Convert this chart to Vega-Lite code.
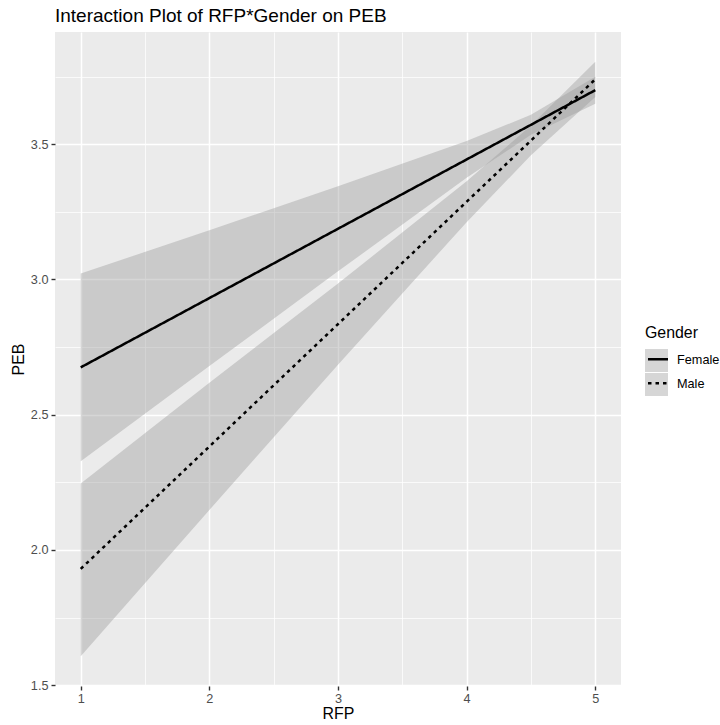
{
  "$schema": "https://vega.github.io/schema/vega-lite/v6.json",
  "width": 566,
  "height": 654,
  "autosize": {"type": "none"},
  "padding": {"left": 55, "top": 32, "right": 99, "bottom": 39},
  "background": "#FFFFFF",
  "config": {
    "font": "Liberation Sans",
    "view": {"fill": "#EBEBEB", "stroke": null},
    "axis": {
      "domain": false,
      "gridColor": "#FFFFFF",
      "gridOpacity": 1,
      "tickColor": "#333333",
      "tickWidth": 1.4,
      "tickSize": 4,
      "labelColor": "#4D4D4D",
      "labelFontSize": 12.7,
      "labelFont": "Liberation Sans",
      "labelOverlap": false,
      "labelFlush": false,
      "titleFont": "Liberation Sans",
      "titleFontSize": 15.9,
      "titleFontWeight": "normal",
      "titleColor": "#000000"
    },
    "legend": {
      "titleFont": "Liberation Sans",
      "labelFont": "Liberation Sans",
      "padding": 0
    }
  },
  "title": {
    "text": "Interaction Plot of RFP*Gender on PEB",
    "anchor": "start",
    "frame": "group",
    "font": "Liberation Sans",
    "fontSize": 19,
    "fontWeight": "normal",
    "color": "#000000",
    "baseline": "alphabetic",
    "offset": 10,
    "dy": 19
  },
  "datasets": {
    "lines": [
      {"Gender": "Female", "RFP": 1, "PEB": 2.675},
      {"Gender": "Female", "RFP": 5, "PEB": 3.7},
      {"Gender": "Male", "RFP": 1, "PEB": 1.93},
      {"Gender": "Male", "RFP": 5, "PEB": 3.74}
    ],
    "bands": [
      {"Gender": "Female", "RFP": 1, "lower": 2.328, "upper": 3.022},
      {"Gender": "Female", "RFP": 2, "lower": 2.68, "upper": 3.182},
      {"Gender": "Female", "RFP": 3, "lower": 3.03, "upper": 3.345},
      {"Gender": "Female", "RFP": 4, "lower": 3.376, "upper": 3.512},
      {"Gender": "Female", "RFP": 4.5, "lower": 3.535, "upper": 3.609},
      {"Gender": "Female", "RFP": 5, "lower": 3.65, "upper": 3.75},
      {"Gender": "Male", "RFP": 1, "lower": 1.607, "upper": 2.246},
      {"Gender": "Male", "RFP": 2, "lower": 2.148, "upper": 2.618},
      {"Gender": "Male", "RFP": 3, "lower": 2.685, "upper": 2.985},
      {"Gender": "Male", "RFP": 4, "lower": 3.212, "upper": 3.363},
      {"Gender": "Male", "RFP": 4.5, "lower": 3.459, "upper": 3.569},
      {"Gender": "Male", "RFP": 5, "lower": 3.675, "upper": 3.805}
    ]
  },
  "encoding": {
    "x": {
      "field": "RFP",
      "type": "quantitative",
      "scale": {"domain": [0.8, 5.2], "nice": false, "zero": false},
      "axis": {
        "title": "RFP",
        "values": [1, 1.5, 2, 2.5, 3, 3.5, 4, 4.5, 5],
        "labelExpr": "datum.value % 1 === 0 ? format(datum.value, 'd') : ''",
        "gridWidth": {"condition": {"test": "datum.value % 1 !== 0", "value": 0.75}, "value": 1.5},
        "tickOpacity": {"condition": {"test": "datum.value % 1 !== 0", "value": 0}, "value": 1},
        "labelPadding": 2,
        "titlePadding": 1
      }
    }
  },
  "layer": [
    {
      "data": {"name": "bands"},
      "mark": {"type": "area", "opacity": 0.4},
      "encoding": {
        "y": {
          "field": "lower",
          "type": "quantitative",
          "scale": {"domain": [1.497, 3.915], "nice": false, "zero": false},
          "axis": {
            "title": "PEB",
            "values": [1.5, 1.75, 2, 2.25, 2.5, 2.75, 3, 3.25, 3.5, 3.75],
            "labelExpr": "(datum.value * 2) % 1 === 0 ? format(datum.value, '.1f') : ''",
            "gridWidth": {"condition": {"test": "(datum.value * 2) % 1 !== 0", "value": 0.75}, "value": 1.5},
            "tickOpacity": {"condition": {"test": "(datum.value * 2) % 1 !== 0", "value": 0}, "value": 1},
            "labelPadding": 3,
            "titlePadding": 4
          }
        },
        "y2": {"field": "upper"},
        "fill": {
          "field": "Gender",
          "type": "nominal",
          "scale": {"domain": ["Female", "Male"], "range": ["#999999", "#999999"]},
          "legend": {
            "orient": "none",
            "legendX": 590,
            "legendY": 293,
            "title": "Gender",
            "titleFontSize": 15.9,
            "titleFontWeight": "normal",
            "titleColor": "#000000",
            "titlePadding": 8,
            "symbolType": "square",
            "symbolSize": 529,
            "symbolStrokeWidth": 0,
            "clipHeight": 23,
            "rowPadding": 1,
            "labelFontSize": 12.7,
            "labelColor": "#000000",
            "labelOffset": 9,
            "encode": {
              "symbols": {
                "update": {
                  "fill": {"value": "#CECECE"},
                  "opacity": {"value": 1},
                  "fillOpacity": {"value": 1}
                }
              }
            }
          }
        }
      }
    },
    {
      "data": {"name": "lines"},
      "mark": {"type": "line", "color": "#000000", "strokeWidth": 2.5},
      "encoding": {
        "y": {
          "field": "PEB",
          "type": "quantitative",
          "scale": {"domain": [1.497, 3.915], "nice": false, "zero": false},
          "axis": {
            "title": "PEB",
            "values": [1.5, 1.75, 2, 2.25, 2.5, 2.75, 3, 3.25, 3.5, 3.75],
            "labelExpr": "(datum.value * 2) % 1 === 0 ? format(datum.value, '.1f') : ''",
            "gridWidth": {"condition": {"test": "(datum.value * 2) % 1 !== 0", "value": 0.75}, "value": 1.5},
            "tickOpacity": {"condition": {"test": "(datum.value * 2) % 1 !== 0", "value": 0}, "value": 1},
            "labelPadding": 3,
            "titlePadding": 4
          }
        },
        "strokeDash": {
          "field": "Gender",
          "type": "nominal",
          "scale": {"range": [[1, 0], [3.5, 4]]},
          "legend": {
            "orient": "none",
            "legendX": 591.5,
            "legendY": 315.7,
            "title": null,
            "symbolType": "stroke",
            "symbolSize": 400,
            "symbolStrokeWidth": 2.5,
            "symbolStrokeColor": "#000000",
            "clipHeight": 23,
            "rowPadding": 1,
            "labelExpr": "''",
            "zindex": 1
          }
        }
      }
    }
  ]
}
